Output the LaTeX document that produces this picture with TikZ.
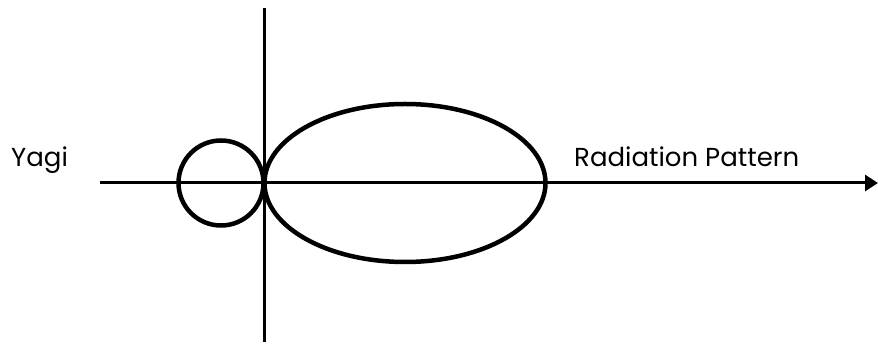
\documentclass[tikz,border=0pt]{standalone}
\usepackage{fontspec}
\setmainfont{Poppins}
\usetikzlibrary{arrows.meta,shapes.geometric}
\begin{document}
\begin{tikzpicture}[x=1pt,y=-1pt,
  axis/.style={line width=3pt},
  lobe/.style={draw, line width=4.5pt, inner sep=0pt},
  lbl/.style={font=\fontsize{26}{30}\selectfont, inner sep=0pt, anchor=base west}]
\useasboundingbox (0,0) rectangle (878,344);
\coordinate (xs) at (100,183);
\coordinate (xe) at (878,183);
\coordinate (ys) at (264,8);
\coordinate (ye) at (264,342);
\draw[axis, -{Triangle[length=13pt,width=16pt]}] (xs) -- (xe);
\draw[axis] (ys) -- (ye);
\node[lobe, circle, minimum size=85pt] (small) at (221,183) {};
\node[lobe, ellipse, minimum width=281pt, minimum height=158pt] (big) at (405,183) {};
\node[lbl] (yagi) at (11,167) {Yagi};
\node[lbl] (rad) at (574,167) {Radiation Pattern};
\end{tikzpicture}
\end{document}
